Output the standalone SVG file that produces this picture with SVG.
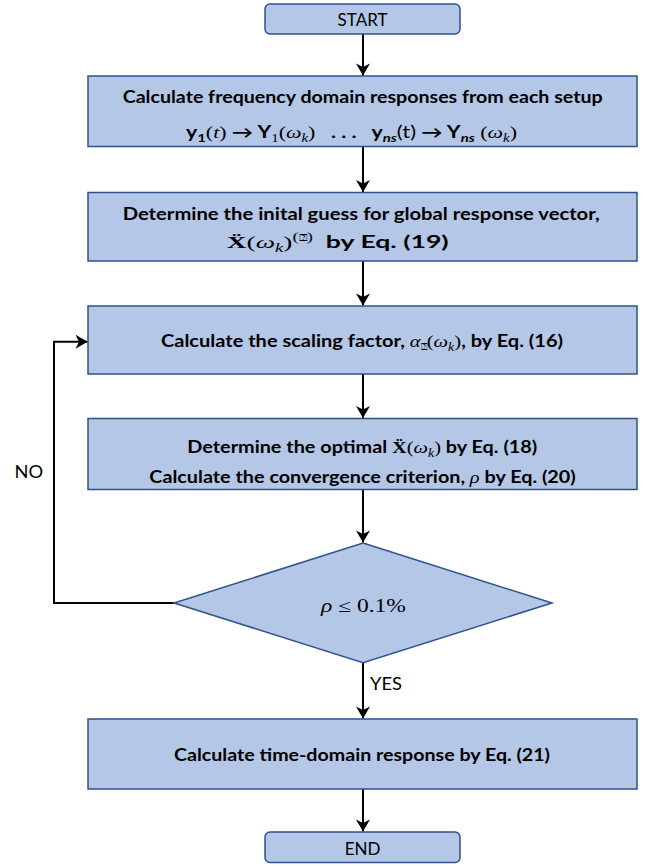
<svg xmlns="http://www.w3.org/2000/svg" width="654" height="867" viewBox="0 0 654 867">
<style>
.box{fill:#B4C7E7;stroke:#2F528F;stroke-width:1.5}
.t{font-family:Lato,"Liberation Sans","DejaVu Sans",sans-serif;font-size:16.5px;font-weight:bold;fill:#000;white-space:pre}
.r{font-family:Lato,"Liberation Sans","DejaVu Sans",sans-serif;font-size:17px;font-weight:normal;fill:#000}
.m{font-family:"Liberation Serif","DejaVu Serif",serif;font-weight:normal;font-style:normal;font-size:17px}
.mi{font-family:"Liberation Serif","DejaVu Serif",serif;font-weight:normal;font-style:italic;font-size:17px}
.mb{font-family:"Liberation Serif","DejaVu Serif",serif;font-weight:bold;font-style:normal;font-size:17px}
.sub{font-size:11.5px}
.bi{font-style:italic}
.q{font-family:"DejaVu Sans",sans-serif;font-weight:normal;font-size:9px}
.c{fill:none;stroke:#000;stroke-width:2}
</style>
<defs>
<marker id="ah" markerUnits="userSpaceOnUse" markerWidth="14" markerHeight="14" viewBox="0 0 12 14" refX="12" refY="7" orient="auto">
<path d="M0,0 L12,7 L0,14 L3.5,7 Z" fill="#000"/>
</marker>
</defs>

<g id="connectors">
<line class="c" x1="363" y1="34" x2="363" y2="75.5" marker-end="url(#ah)"/>
<line class="c" x1="363" y1="146.5" x2="363" y2="192" marker-end="url(#ah)"/>
<line class="c" x1="363" y1="261" x2="363" y2="305.5" marker-end="url(#ah)"/>
<line class="c" x1="363" y1="374" x2="363" y2="418" marker-end="url(#ah)"/>
<line class="c" x1="363" y1="489.5" x2="363" y2="542.5" marker-end="url(#ah)"/>
<line class="c" x1="363" y1="662.7" x2="363" y2="718.5" marker-end="url(#ah)"/>
<line class="c" x1="363" y1="789" x2="363" y2="831.5" marker-end="url(#ah)"/>
<polyline class="c" points="174,603 54,603 54,341.7 87.5,341.7" marker-end="url(#ah)"/>
<text class="r" x="14.5" y="478" textLength="28.6" lengthAdjust="spacingAndGlyphs" style="font-size:18px">NO</text>
<text class="r" x="370" y="690" textLength="32" lengthAdjust="spacingAndGlyphs">YES</text>
</g>

<g id="start">
<rect class="box" x="265" y="4" width="195" height="30" rx="5"/>
<text class="r" x="362.5" y="26" text-anchor="middle">START</text>
</g>

<g id="step1">
<rect class="box" x="88" y="76" width="549" height="70.5"/>
<text class="t" x="122.7" y="103" textLength="480" lengthAdjust="spacingAndGlyphs">Calculate frequency domain responses from each setup</text>
<text class="t" x="186" y="138" textLength="331" lengthAdjust="spacingAndGlyphs"><tspan>y</tspan><tspan class="sub" dy="4">1</tspan><tspan class="m" dy="-4">(</tspan><tspan class="mi">t</tspan><tspan class="m">)</tspan><tspan> → Y</tspan><tspan class="m sub" dy="4">1</tspan><tspan class="m" dy="-4">(</tspan><tspan class="mi">ω</tspan><tspan class="mi sub" dy="4">k</tspan><tspan class="m" dy="-4">)</tspan><tspan>   . . .   y</tspan><tspan class="sub bi" dy="4">ns</tspan><tspan class="r" dy="-4">(t)</tspan><tspan> → Y</tspan><tspan class="sub bi" dy="4">ns</tspan><tspan class="m" dy="-4"> (</tspan><tspan class="mi">ω</tspan><tspan class="mi sub" dy="4">k</tspan><tspan class="m" dy="-4">)</tspan></text>
</g>

<g id="step2">
<rect class="box" x="88" y="192.5" width="549" height="68.5"/>
<text class="t" x="122.7" y="220" textLength="477" lengthAdjust="spacingAndGlyphs">Determine the inital guess for global response vector,</text>
<text class="t" x="226.7" y="248" textLength="222" lengthAdjust="spacingAndGlyphs"><tspan class="mb">Ẍ</tspan><tspan class="m">(</tspan><tspan class="mi">ω</tspan><tspan class="mi sub" dy="4">k</tspan><tspan class="m" dy="-4">)</tspan><tspan class="m sub" dy="-7">(</tspan><tspan class="q">⍰</tspan><tspan class="m sub">)</tspan><tspan dy="7">  by Eq. (19)</tspan></text>
</g>

<g id="step3">
<rect class="box" x="88" y="306" width="549" height="68"/>
<text class="t" x="161" y="347" textLength="402" lengthAdjust="spacingAndGlyphs"><tspan>Calculate the scaling factor, </tspan><tspan class="mi">α</tspan><tspan class="q" dy="3">⍰</tspan><tspan class="m" dy="-3">(</tspan><tspan class="mi">ω</tspan><tspan class="mi sub" dy="4">k</tspan><tspan class="m" dy="-4">)</tspan><tspan>, by Eq. (16)</tspan></text>
</g>

<g id="step4">
<rect class="box" x="88" y="418.5" width="549" height="71"/>
<text class="t" x="187.3" y="453" textLength="350" lengthAdjust="spacingAndGlyphs"><tspan>Determine the optimal </tspan><tspan class="mb">Ẍ</tspan><tspan class="m">(</tspan><tspan class="mi">ω</tspan><tspan class="mi sub" dy="4">k</tspan><tspan class="m" dy="-4">)</tspan><tspan> by Eq. (18)</tspan></text>
<text class="t" x="149.3" y="483" textLength="426.4" lengthAdjust="spacingAndGlyphs"><tspan>Calculate the convergence criterion, </tspan><tspan class="mi">ρ</tspan><tspan> by Eq. (20)</tspan></text>
</g>

<g id="decision">
<polygon class="box" points="363,543 552,603 363,662.7 174,603"/>
<text class="m" x="321" y="611.5" textLength="85" lengthAdjust="spacingAndGlyphs" style="font-size:18px"><tspan class="mi" style="font-size:18px">ρ</tspan><tspan> ≤ 0.1%</tspan></text>
</g>

<g id="step5">
<rect class="box" x="88" y="719" width="549" height="70"/>
<text class="t" x="174" y="761" textLength="376" lengthAdjust="spacingAndGlyphs">Calculate time-domain response by Eq. (21)</text>
</g>

<g id="end">
<rect class="box" x="265" y="832" width="195" height="30.5" rx="5"/>
<text class="r" x="362.5" y="855" text-anchor="middle">END</text>
</g>
</svg>
